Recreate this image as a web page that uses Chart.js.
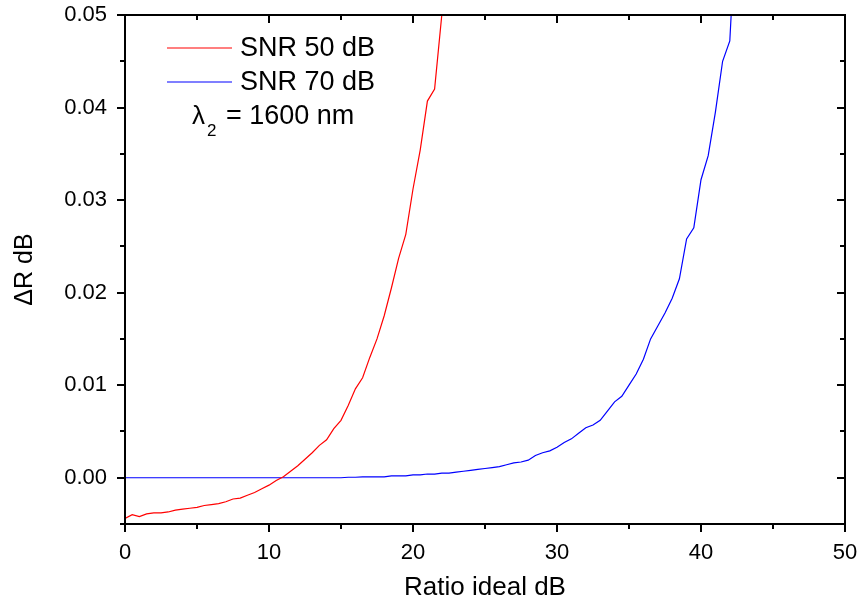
<!DOCTYPE html>
<html>
<head>
<meta charset="utf-8">
<script src="https://cdn.jsdelivr.net/npm/chart.js@4.4.1/dist/chart.umd.min.js"></script>
<style>
  html, body { margin: 0; padding: 0; background: #fff; }
  #wrap { width: 864px; height: 606px; }
</style>
</head>
<body>
<div id="wrap"><canvas id="deltaChart"></canvas></div>
<script>
// ratio ideal (dB) and delta R (dB)
const ratio50 = [0, 0.5, 1, 1.5, 2, 2.5, 3, 3.5, 4, 4.5, 5, 5.5, 6, 6.5, 7, 7.5, 8, 8.5, 9, 9.5,
  10, 10.5, 11, 11.5, 12, 12.5, 13, 13.5, 14, 14.5, 15, 15.5, 16, 16.5, 17, 17.5, 18, 18.5, 19, 19.5,
  20, 20.5, 21, 21.5, 22, 22.5];
const delta50 = [-0.0044, -0.0040, -0.0042, -0.0039, -0.0038, -0.0038, -0.0037, -0.0035, -0.0034, -0.0033,
  -0.0032, -0.0030, -0.0029, -0.0028, -0.0026, -0.0023, -0.0022, -0.0019, -0.0016, -0.0012,
  -0.0008, -0.0003, 0.0001, 0.0007, 0.0013, 0.0020, 0.0027, 0.0035, 0.0041, 0.0053,
  0.0062, 0.0078, 0.0096, 0.0108, 0.0130, 0.0150, 0.0175, 0.0205, 0.0237, 0.0263,
  0.0312, 0.0354, 0.0407, 0.0420, 0.0500, 0.0590];

const ratio70 = [0, 0.5, 1, 1.5, 2, 2.5, 3, 3.5, 4, 4.5, 5, 5.5, 6, 6.5, 7, 7.5, 8, 8.5, 9, 9.5,
  10, 10.5, 11, 11.5, 12, 12.5, 13, 13.5, 14, 14.5, 15, 15.5, 16, 16.5, 17, 17.5, 18, 18.5, 19, 19.5,
  20, 20.5, 21, 21.5, 22, 22.5, 23, 23.5, 24, 24.5, 25, 25.5, 26, 26.5, 27, 27.5, 28, 28.5, 29, 29.5,
  30, 30.5, 31, 31.5, 32, 32.5, 33, 33.5, 34, 34.5, 35, 35.5, 36, 36.5, 37, 37.5, 38, 38.5, 39, 39.5,
  40, 40.5, 41, 41.5, 42, 42.5];
const delta70 = [0, 0, 0, 0, 0, 0, 0, 0, 0, 0,
  0, 0, 0, 0, 0, 0, 0, 0, 0, 0,
  0, 0, 0, 0, 0, 0, 0, 0, 0, 0,
  0, 0.00005, 0.00005, 0.0001, 0.0001, 0.0001, 0.0001, 0.0002, 0.0002, 0.0002,
  0.0003, 0.0003, 0.0004, 0.0004, 0.0005, 0.0005, 0.0006, 0.0007, 0.0008, 0.0009,
  0.0010, 0.0011, 0.0012, 0.0014, 0.0016, 0.0017, 0.0019, 0.0024, 0.0027, 0.0029,
  0.0033, 0.0038, 0.0042, 0.0048, 0.0054, 0.0057, 0.0062, 0.0072, 0.0082, 0.0088,
  0.0100, 0.0112, 0.0128, 0.0150, 0.0164, 0.0178, 0.0194, 0.0215, 0.0258, 0.0270,
  0.0322, 0.0348, 0.0395, 0.0450, 0.0472, 0.0620];

const seriesNames = ['SNR 50 dB', 'SNR 70 dB'];
const xTicks = [0, 10, 20, 30, 40, 50];
const yTicks = [0.00, 0.01, 0.02, 0.03, 0.04, 0.05];

const FONT = "'Liberation Sans', Arial, sans-serif";

function toPoints(xs, ys) {
  return xs.map((x, i) => ({ x: x, y: ys[i] }));
}

// frame, mirrored ticks and the in-plot legend
const framePlugin = {
  id: 'frame',
  afterDraw(chart) {
    const { ctx, chartArea: a, scales } = chart;
    const xs = scales.x, ys = scales.y;
    ctx.save();
    ctx.strokeStyle = '#000';
    ctx.lineWidth = 2;
    ctx.strokeRect(a.left, a.top, a.right - a.left, a.bottom - a.top);

    ctx.beginPath();
    for (let v = 0; v <= 50; v += 5) {
      const px = Math.round(xs.getPixelForValue(v));
      const len = v % 10 === 0 ? 8 : 5;
      ctx.moveTo(px, a.bottom); ctx.lineTo(px, a.bottom + len);
      ctx.moveTo(px, a.top); ctx.lineTo(px, a.top + len);
    }
    for (let k = -1; k <= 10; k++) {
      const v = k * 0.005;
      const py = Math.round(ys.getPixelForValue(v));
      const len = k % 2 === 0 ? 8 : 5;
      ctx.moveTo(a.left, py); ctx.lineTo(a.left - len, py);
      ctx.moveTo(a.right, py); ctx.lineTo(a.right - len, py);
    }
    ctx.stroke();

    // legend
    ctx.lineWidth = 1.2;
    ctx.font = '27px ' + FONT;
    ctx.fillStyle = '#000';
    ctx.textBaseline = 'middle';
    const rows = [48, 82];
    chart.data.datasets.forEach((ds, i) => {
      ctx.strokeStyle = ds.borderColor;
      ctx.beginPath();
      ctx.moveTo(167, rows[i]); ctx.lineTo(232, rows[i]);
      ctx.stroke();
      ctx.fillText(ds.label, 240, rows[i] + 1);
    });
    ctx.font = '26px ' + FONT;
    ctx.fillText('λ', 192, 117);
    ctx.font = '17px ' + FONT;
    ctx.fillText('2', 207, 131);
    ctx.font = '27px ' + FONT;
    ctx.fillText('= 1600 nm', 226, 117);
    ctx.restore();
  }
};

const ctx = document.getElementById('deltaChart').getContext('2d');
new Chart(ctx, {
  type: 'line',
  data: {
    datasets: [
      {
        label: seriesNames[0],
        data: toPoints(ratio50, delta50),
        borderColor: '#ff0000',
        borderWidth: 1.2,
        pointRadius: 0,
        tension: 0,
        fill: false
      },
      {
        label: seriesNames[1],
        data: toPoints(ratio70, delta70),
        borderColor: '#0000ff',
        borderWidth: 1.2,
        pointRadius: 0,
        tension: 0,
        fill: false
      }
    ]
  },
  plugins: [framePlugin],
  options: {
    responsive: true,
    maintainAspectRatio: false,
    animation: false,
    layout: { padding: { top: 15, right: 19, left: 0, bottom: 0 } },
    plugins: {
      legend: { display: false },
      tooltip: { enabled: false }
    },
    scales: {
      x: {
        type: 'linear',
        min: 0,
        max: 50,
        grid: { display: false },
        border: { display: false },
        afterFit(scale) {
          scale.height = 82;
          scale.paddingLeft = 0;
          scale.paddingRight = 0;
        },
        afterBuildTicks(scale) { scale.ticks = xTicks.map(v => ({ value: v })); },
        ticks: {
          color: '#000',
          padding: 8,
          maxRotation: 0,
          font: { family: FONT, size: 22 },
          callback: v => String(v)
        },
        title: {
          display: true,
          text: 'Ratio ideal dB',
          color: '#000',
          font: { family: FONT, size: 26 },
          padding: { top: 0, bottom: 3 }
        }
      },
      y: {
        type: 'linear',
        min: -0.005,
        max: 0.05,
        grid: { display: false },
        border: { display: false },
        afterFit(scale) {
          scale.width = 125;
          scale.paddingTop = 0;
          scale.paddingBottom = 0;
        },
        afterBuildTicks(scale) { scale.ticks = yTicks.map(v => ({ value: v })); },
        ticks: {
          color: '#000',
          padding: 10,
          font: { family: FONT, size: 22 },
          callback: v => v.toFixed(2)
        },
        title: {
          display: true,
          text: 'ΔR dB',
          color: '#000',
          font: { family: FONT, size: 25 },
          padding: { top: 10, bottom: 0 }
        }
      }
    }
  }
});
</script>
</body>
</html>
